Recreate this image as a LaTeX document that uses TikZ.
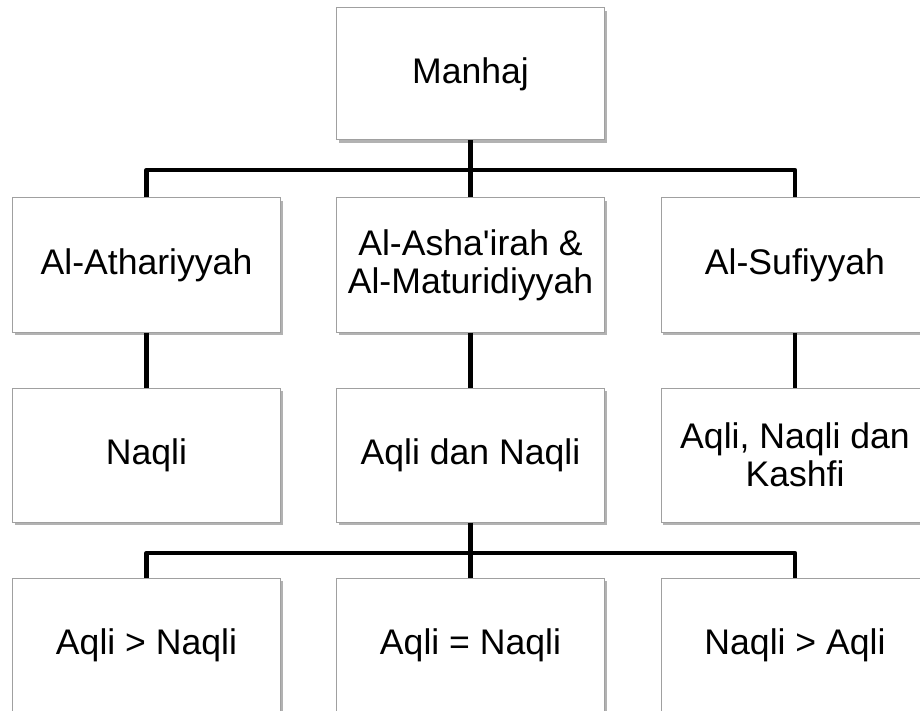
\documentclass[tikz,border=0pt]{standalone}
\usepackage{fontspec}
\newfontfamily\arialf{Liberation Sans}
\usetikzlibrary{shadows}
\definecolor{boxline}{HTML}{A0A0A0}
\tikzset{
  box/.style={draw=boxline, line width=0.5pt, fill=white, minimum width=134pt, minimum height=67pt,
    inner sep=0pt, align=center, font=\arialf\fontsize{17.8}{19}\selectfont,
    drop shadow={shadow xshift=1.2pt, shadow yshift=-1.5pt, opacity=0.3, fill=black}},
  conn/.style={line width=2.3pt, line join=round, draw=black}
}
\begin{document}
\begin{tikzpicture}[x=0.5pt,y=-0.5pt]
\useasboundingbox (0,0) rectangle (920,711);
\clip (0,0) rectangle (920,711);
% row 1
\node[box, minimum height=66pt] (m) at (470.5,74) {Manhaj};
% row 2
\node[box] (a1) at (146.5,265) {Al-Athariyyah};
\node[box] (b1) at (470.5,265) {Al-Asha'irah \&\\Al-Maturidiyyah};
\node[box] (c1) at (795,265) {Al-Sufiyyah};
% row 3
\node[box] (a2) at (146.5,455) {Naqli};
\node[box] (b2) at (470.5,455) {Aqli dan Naqli};
\node[box] (c2) at (795,455) {Aqli, Naqli dan\\Kashfi};
% row 4
\node[box] (a3) at (146.5,645) {Aqli > Naqli};
\node[box] (b3) at (470.5,645) {Aqli = Naqli};
\node[box] (c3) at (795,645) {Naqli > Aqli};
% connectors
\coordinate (j1) at (470.5,170);
\coordinate (j2) at (470.5,553);
\draw[conn] (m.south) -- (j1);
\draw[conn] (a1.north) |- (j1) -| (c1.north);
\draw[conn] (j1) -- (b1.north);
\draw[conn] (a1.south) -- (a2.north);
\draw[conn] (b1.south) -- (b2.north);
\draw[conn] (c1.south) -- (c2.north);
\draw[conn] (b2.south) -- (j2);
\draw[conn] (a3.north) |- (j2) -| (c3.north);
\draw[conn] (j2) -- (b3.north);
\end{tikzpicture}
\end{document}
